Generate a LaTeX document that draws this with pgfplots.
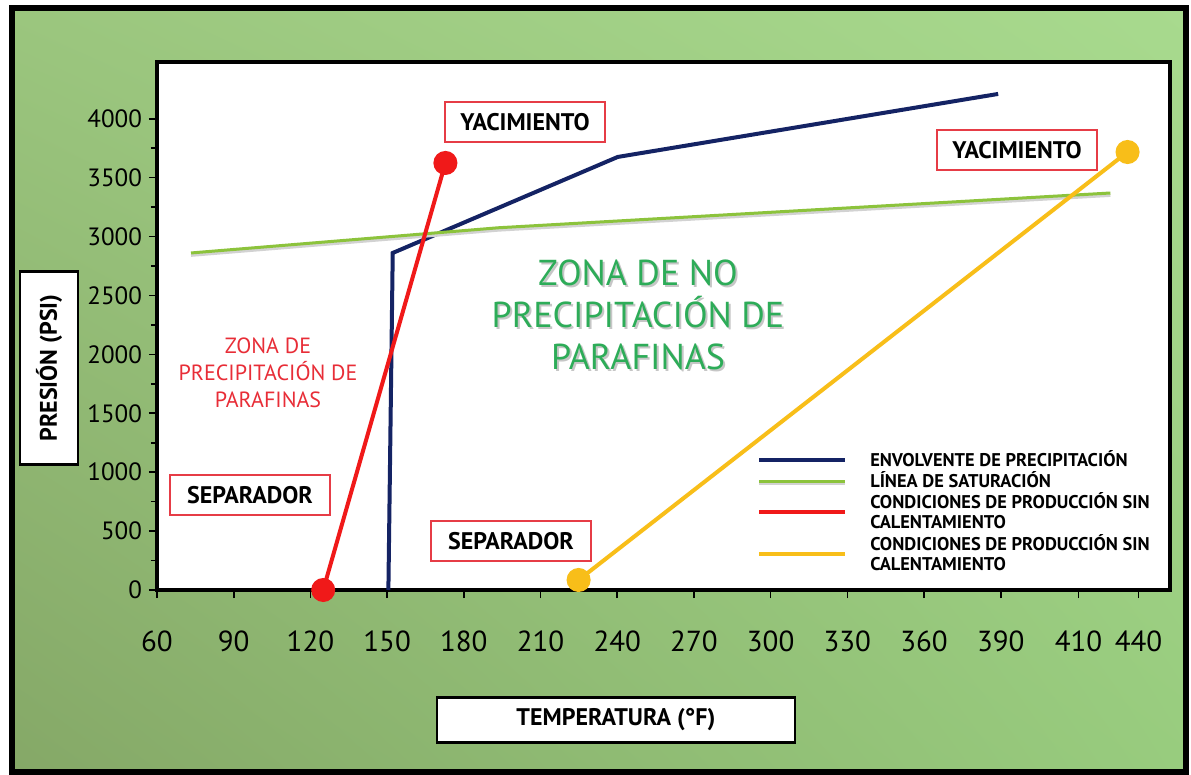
\documentclass[border=0pt]{standalone}
\usepackage{fontspec}
\setmainfont{PT Sans}
\usepackage{pgfplots}
\pgfplotsset{compat=1.18}
\usetikzlibrary{shadings}

\definecolor{envblue}{RGB}{20,35,100}
\definecolor{satgreen}{RGB}{140,195,60}
\definecolor{prodred}{RGB}{240,25,25}
\definecolor{prodyellow}{RGB}{248,190,25}
\definecolor{boxred}{RGB}{230,60,70}
\definecolor{zonered}{RGB}{232,45,55}
\definecolor{zonegreen}{RGB}{45,172,88}
\definecolor{bgLL}{RGB}{133,168,103}
\definecolor{bgUL}{RGB}{155,198,126}
\definecolor{bgUR}{RGB}{168,218,142}
\definecolor{bgLR}{RGB}{152,204,126}

\begin{document}
\begin{tikzpicture}
% background, frame and the two axis-title boxes (pixel grid, 1px = 0.5pt)
\begin{scope}[x=0.5pt,y=-0.5pt]
  \fill[white] (0,0) rectangle (1191,775);
  \shade[lower left=bgLL, upper left=bgUL, upper right=bgUR, lower right=bgLR]
    (12,8) rectangle (1186,772);
  \draw[line width=3pt] (12,8) rectangle (1186,772);
  \node[draw=black, line width=1.2pt, fill=white, rotate=90,
        minimum width=96.5pt, minimum height=29pt,
        font=\bfseries\fontsize{12}{14}\selectfont] at (49,368) {PRESIÓN (PSI)};
  \node[draw=black, line width=1.2pt, fill=white,
        minimum width=179pt, minimum height=22.5pt,
        font=\bfseries\fontsize{12}{14}\selectfont] at (616,720) {TEMPERATURA (°F)};
\end{scope}

\begin{axis}[
    at={(78.5pt,-295pt)}, anchor=south west,
    scale only axis, width=506.5pt, height=264pt,
    xmin=60, xmax=456.2, ymin=0, ymax=4482,
    clip=false,
    axis line style={line width=2pt},
    axis background/.style={fill=white},
    tick pos=left, tick align=outside,
    major tick length=4pt, minor tick length=3pt,
    tick style={black, line width=0.8pt},
    xtick={60,90,...,390,420.4,443.9},
    xticklabels={60,90,120,150,180,210,240,270,300,330,360,390,410,440},
    ytick={0,500,...,4000}, minor y tick num=1,
    /pgf/number format/assume math mode=true,
    /pgf/number format/1000 sep={},
    xticklabel style={font=\fontsize{14.5}{16}\selectfont, yshift=-13pt},
    yticklabel style={font=\fontsize{12.5}{14}\selectfont},
    legend style={at={(0.592,0.268)}, anchor=north west, draw=none, fill=none,
        inner sep=0pt, row sep=0pt, column sep=11pt,
        font=\bfseries\fontsize{9.2}{10}\selectfont,
        cells={align=left},
        nodes={inner sep=0.6pt}},
    legend cell align=left,
    legend image code/.code={\draw[#1,mark=none] (0pt,0pt) -- (43pt,0pt);},
]
\addplot[envblue, line width=2pt] coordinates {
    (150.5,0) (152.2,2861) (240.2,3676) (389.0,4211)};
\addplot[satgreen, line width=1.5pt,
    preaction={draw=gray!35, line width=1.5pt, transform canvas={yshift=-1.2pt}}]
    coordinates {(73.3,2861) (193.6,3075) (432.9,3370)};
\addplot[prodred, line width=2pt, mark=*, mark size=5pt,
    mark options={fill=prodred, draw=prodred}] coordinates {
    (125.0,0) (172.8,3625)};
\addplot[prodyellow, line width=2pt, mark=*, mark size=5pt,
    mark options={fill=prodyellow, draw=prodyellow}] coordinates {
    (224.9,85) (439.6,3718)};
\legend{ENVOLVENTE DE PRECIPITACIÓN, LÍNEA DE SATURACIÓN,
    {CONDICIONES DE PRODUCCIÓN SIN\\CALENTAMIENTO},
    {CONDICIONES DE PRODUCCIÓN SIN\\CALENTAMIENTO}}
\end{axis}

% annotations (same pixel grid)
\begin{scope}[x=0.5pt,y=-0.5pt,
    tag/.style={draw=boxred, line width=0.7pt, fill=white,
        minimum width=80pt, minimum height=20pt,
        font=\bfseries\fontsize{12}{14}\selectfont}]
  \node[tag] at (525,122) {YACIMIENTO};
  \node[tag] at (1017,150) {YACIMIENTO};
  \node[tag] at (250,495) {SEPARADOR};
  \node[tag] at (511,541) {SEPARADOR};
  \node[align=center, text=zonered, font=\fontsize{11}{13.5}\selectfont]
    at (268,373) {ZONA DE\\PRECIPITACIÓN DE\\PARAFINAS};
  \node[align=center, text=gray!45, font=\fontsize{18}{21}\selectfont]
    at (640,317) {ZONA DE NO\\PRECIPITACIÓN DE\\PARAFINAS};
  \node[align=center, text=zonegreen, font=\fontsize{18}{21}\selectfont]
    at (638,315) {ZONA DE NO\\PRECIPITACIÓN DE\\PARAFINAS};
\end{scope}
\end{tikzpicture}
\end{document}
